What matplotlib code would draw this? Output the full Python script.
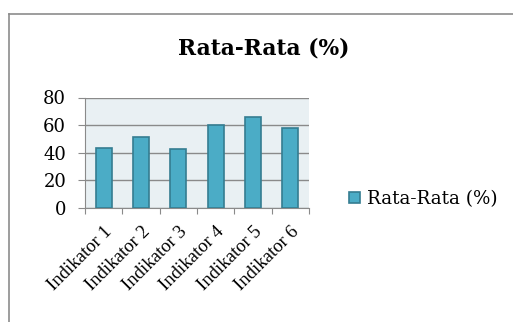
import numpy as np
import matplotlib.pyplot as plt
from matplotlib.lines import Line2D

plt.rcParams['font.family'] = ['DejaVu Serif']

categories = ['Indikator 1', 'Indikator 2', 'Indikator 3',
              'Indikator 4', 'Indikator 5', 'Indikator 6']
values = [43.6, 51.2, 42.7, 59.9, 66.2, 57.7]
series_name = 'Rata-Rata (%)'
y_ticks = [0, 20, 40, 60, 80]

W, H = 513, 322
fig = plt.figure(figsize=(W / 100, H / 100), dpi=100)

# outer chart frame (left and top edges visible)
fig.add_artist(Line2D([8.5 / W, 8.5 / W], [0, 1 - 13.5 / H],
                      color='#8c8c8c', lw=1.2))
fig.add_artist(Line2D([8.5 / W, 1], [1 - 13.5 / H, 1 - 13.5 / H],
                      color='#8c8c8c', lw=1.2))

ax = fig.add_axes([85 / W, 1 - 208 / H, (309 - 85) / W, (208 - 97.5) / H])
ax.set_facecolor('#e9f0f3')

x = np.arange(len(categories))
ax.bar(x, values, width=0.43, color='#4bacc6', edgecolor='#357d91',
       linewidth=1.2, zorder=3, label=series_name)

ax.set_xlim(-0.5, len(categories) - 0.5)
ax.set_ylim(0, 80)
ax.set_yticks(y_ticks)
ax.yaxis.grid(True, color='#8a8a8a', lw=1.0, zorder=1)
ax.tick_params(axis='y', length=5, color='#8a8a8a', labelsize=13, pad=8.5)

ax.set_xticks(np.arange(len(categories) + 1) - 0.5)
ax.set_xticklabels([])
ax.set_xticks(x, minor=True)
ax.set_xticklabels(categories, minor=True, rotation=45, ha='right',
                   va='top', rotation_mode='anchor', fontsize=13.5,
                   family=['Liberation Serif'])
ax.tick_params(axis='x', which='major', length=4, color='#8a8a8a')
ax.tick_params(axis='x', which='minor', length=0, pad=11)

for side in ['top', 'right']:
    ax.spines[side].set_visible(False)
for side in ['left', 'bottom']:
    ax.spines[side].set_color('#8a8a8a')

fig.text(264 / W, 1 - 48 / H, series_name, ha='center', va='center',
         fontsize=15.7, fontweight='bold')

fig.legend(loc='center left', bbox_to_anchor=(342 / W, 1 - 199 / H),
           frameon=False, fontsize=13.2, handlelength=0.6, handleheight=0.6,
           handletextpad=0.35, borderaxespad=0)

fig.savefig('out.png', dpi=100)
